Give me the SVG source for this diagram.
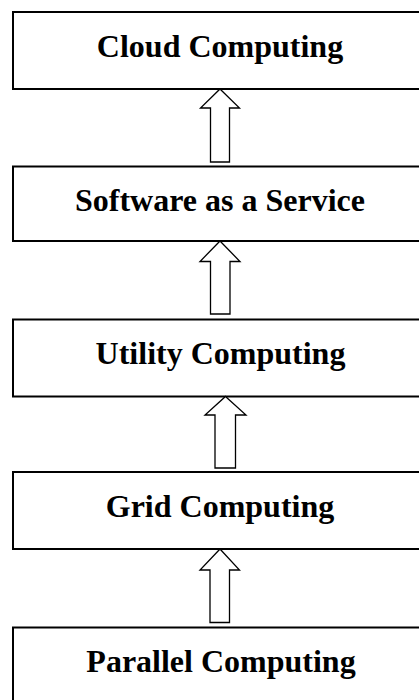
<svg xmlns="http://www.w3.org/2000/svg" width="419" height="700" viewBox="0 0 419 700">
  <style>
    .box { fill: #ffffff; stroke: #000000; stroke-width: 2; }
    .label { font-family: "Liberation Serif", "Times New Roman", serif; font-weight: bold; font-size: 32px; fill: #000000; text-anchor: middle; }
    .arrow { fill: #ffffff; stroke: #000000; stroke-width: 1.3; stroke-linejoin: miter; }
  </style>
  <rect x="0" y="0" width="419" height="700" fill="#ffffff"/>

  <g id="cloud-computing">
    <rect class="box" x="13" y="12" width="420" height="77"/>
    <text class="label" x="220" y="56.5">Cloud Computing</text>
  </g>
  <g id="software-as-a-service">
    <rect class="box" x="13" y="166.5" width="420" height="74.5"/>
    <text class="label" x="220" y="211">Software as a Service</text>
  </g>
  <g id="utility-computing">
    <rect class="box" x="13" y="319.5" width="420" height="77"/>
    <text class="label" x="220.5" y="364">Utility Computing</text>
  </g>
  <g id="grid-computing">
    <rect class="box" x="13" y="472" width="420" height="77"/>
    <text class="label" x="220" y="516.5">Grid Computing</text>
  </g>
  <g id="parallel-computing">
    <rect class="box" x="13" y="627.5" width="420" height="90"/>
    <text class="label" x="221" y="671.5">Parallel Computing</text>
  </g>

  <g id="connectors">
    <path class="arrow" d="M220,89 L239.5,108 L229.5,108 L229.5,162 L210.5,162 L210.5,108 L200.5,108 Z"/>
    <path class="arrow" d="M220,241 L240,261.5 L230,261.5 L230,314 L210.5,314 L210.5,261.5 L200,261.5 Z"/>
    <path class="arrow" d="M225.5,396.5 L246,415 L235.5,415 L235.5,468 L215,468 L215,415 L205,415 Z"/>
    <path class="arrow" d="M220,549 L239.5,570 L229.5,570 L229.5,622.5 L210,622.5 L210,570 L200,570 Z"/>
  </g>
</svg>
